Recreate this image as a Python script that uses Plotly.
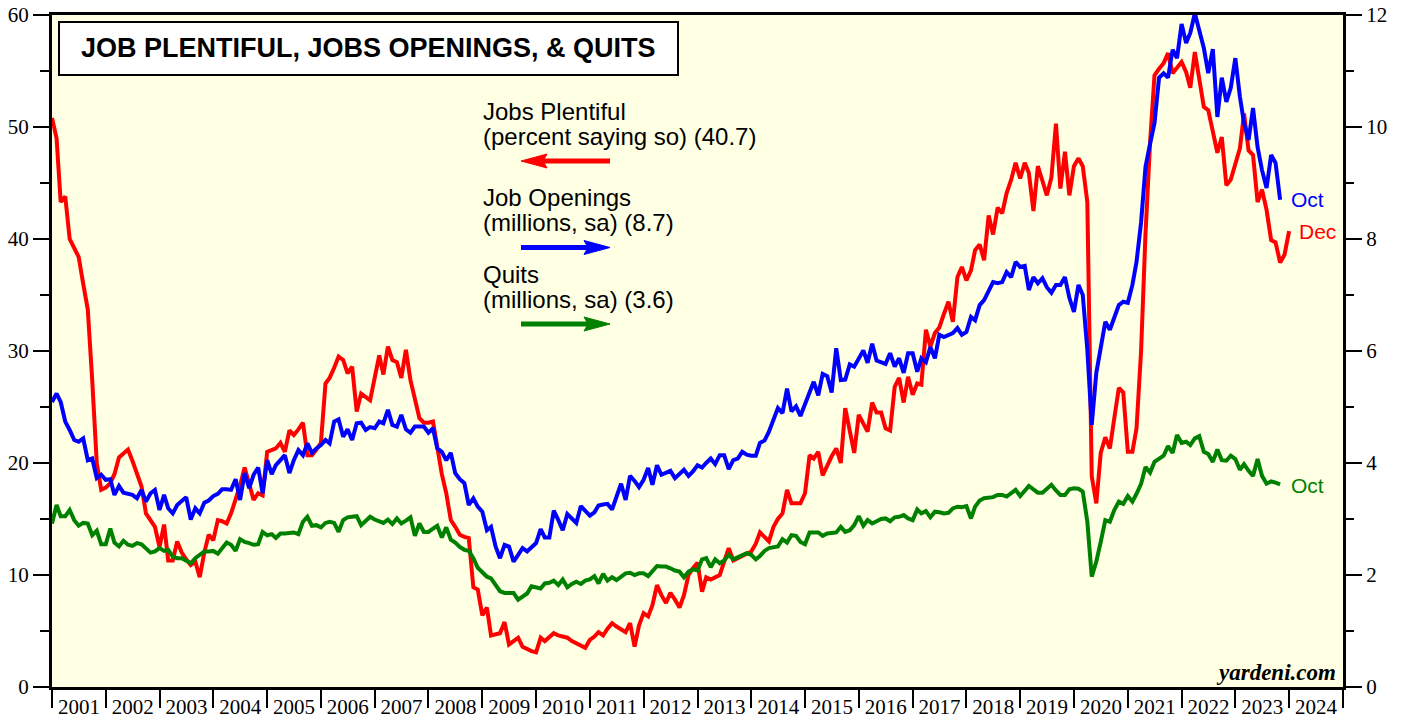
import pandas as pd
import plotly.graph_objects as go

# ---------------- DATA (monthly; first value = Dec 2000, plotted at month end) ----------------
jobs_plentiful = [  # percent saying jobs are plentiful, Dec 2000 - Dec 2023
    50.8,
    49.0, 43.3, 43.8, 40.0, 39.2, 38.4, 36.0, 33.7, 27.4, 20.0, 17.6, 17.8,   # 2001
    18.2, 19.0, 20.5, 20.9, 21.2, 20.2, 19.0, 17.9, 15.5, 14.8, 14.3, 12.5,   # 2002
    14.5, 11.3, 11.3, 13.0, 12.0, 11.4, 10.9, 11.2, 9.8, 12.0, 13.6, 13.1,    # 2003
    14.9, 14.8, 14.6, 15.5, 16.7, 18.0, 19.6, 18.0, 16.7, 17.3, 17.1, 21.0,   # 2004
    21.2, 21.3, 21.8, 21.0, 22.9, 22.5, 23.0, 23.6, 20.7, 20.7, 21.2, 21.8,   # 2005
    27.1, 27.6, 28.5, 29.5, 29.2, 28.0, 28.6, 24.6, 26.2, 25.9, 25.6, 27.6,   # 2006
    29.6, 27.9, 30.4, 29.2, 29.0, 27.6, 30.1, 27.4, 25.6, 24.0, 23.6, 23.6,   # 2007
    23.7, 21.4, 19.0, 17.3, 14.9, 14.3, 13.6, 13.4, 13.3, 8.9, 8.7, 6.4,      # 2008
    7.1, 4.6, 4.7, 4.8, 5.8, 3.8, 4.1, 4.4, 3.6, 3.4, 3.2, 3.1,               # 2009
    4.4, 4.1, 4.4, 4.8, 4.6, 4.5, 4.4, 4.1, 3.9, 3.7, 3.5, 4.2,               # 2010
    4.5, 4.9, 4.6, 5.2, 5.7, 5.4, 5.1, 4.9, 5.7, 3.6, 5.5, 6.6,               # 2011
    6.3, 7.3, 9.1, 8.2, 7.5, 8.4, 7.8, 7.1, 8.2, 10.0, 10.6, 11.1,            # 2012
    8.5, 9.8, 9.6, 9.8, 10.0, 11.2, 12.4, 11.3, 11.5, 11.7, 11.9, 12.1,       # 2013
    12.8, 13.8, 13.4, 13.0, 14.3, 15.0, 15.5, 17.6, 16.4, 16.4, 16.4, 17.3,   # 2014
    20.7, 20.4, 21.0, 18.9, 19.8, 20.6, 21.3, 20.0, 24.9, 23.0, 20.9, 24.3,   # 2015
    23.5, 22.8, 25.4, 24.5, 24.5, 23.1, 22.9, 26.8, 27.6, 25.4, 27.7, 26.1,   # 2016
    27.1, 27.0, 31.9, 30.4, 31.6, 32.1, 33.3, 34.4, 32.6, 36.6, 37.5, 36.3,   # 2017
    37.2, 39.0, 39.5, 38.1, 42.1, 40.4, 42.8, 42.3, 44.1, 45.3, 46.8, 45.4,   # 2018
    46.8, 45.9, 42.5, 46.5, 45.2, 43.9, 45.5, 50.3, 44.5, 47.8, 43.9, 46.5,   # 2019
    47.2, 46.5, 43.3, 18.8, 16.4, 20.9, 22.3, 21.3, 24.0, 26.7, 26.3, 21.0,   # 2020
    21.0, 23.1, 30.0, 40.5, 48.6, 54.6, 55.2, 55.7, 56.6, 54.8, 55.3, 55.8,   # 2021
    54.9, 53.5, 56.7, 54.4, 51.8, 51.5, 49.4, 47.7, 49.1, 44.8, 45.3, 46.8,   # 2022
    48.1, 51.2, 47.9, 47.5, 43.3, 44.4, 42.6, 39.9, 39.7, 37.9, 38.6, 40.7,   # 2023
]

job_openings = [  # millions, sa, Dec 2000 - Oct 2023
    5.09,
    5.24, 5.09, 4.74, 4.59, 4.41, 4.38, 4.44, 4.05, 4.08, 3.73, 3.79, 3.70,   # 2001
    3.71, 3.43, 3.59, 3.47, 3.45, 3.43, 3.37, 3.52, 3.31, 3.46, 3.52, 3.16,   # 2002
    3.43, 3.19, 3.10, 3.25, 3.32, 3.39, 2.99, 3.19, 3.10, 3.29, 3.33, 3.41,   # 2003
    3.45, 3.53, 3.53, 3.52, 3.71, 3.34, 3.82, 3.55, 3.79, 3.92, 3.46, 4.05,   # 2004
    3.80, 3.96, 4.05, 4.14, 3.82, 4.05, 4.23, 4.14, 4.35, 4.18, 4.26, 4.32,   # 2005
    4.41, 4.35, 4.74, 4.78, 4.47, 4.60, 4.41, 4.71, 4.72, 4.59, 4.64, 4.62,   # 2006
    4.74, 4.71, 4.95, 4.68, 4.65, 4.86, 4.60, 4.54, 4.65, 4.65, 4.65, 4.54,   # 2007
    4.62, 4.26, 4.20, 4.05, 4.18, 3.82, 3.71, 3.64, 3.25, 3.37, 3.22, 3.13,   # 2008
    2.80, 2.86, 2.51, 2.30, 2.54, 2.51, 2.24, 2.36, 2.48, 2.42, 2.50, 2.57,   # 2009
    2.82, 2.67, 2.67, 3.15, 2.98, 2.80, 3.09, 3.00, 2.93, 3.23, 3.15, 3.06,   # 2010
    3.12, 3.24, 3.26, 3.27, 3.17, 3.40, 3.63, 3.34, 3.77, 3.68, 3.57, 3.70,   # 2011
    3.91, 3.61, 3.96, 3.79, 3.82, 3.86, 3.73, 3.80, 3.88, 3.77, 3.85, 3.96,   # 2012
    3.92, 4.00, 4.08, 3.98, 4.14, 4.14, 3.89, 4.05, 4.08, 4.20, 4.15, 4.13,   # 2013
    4.13, 4.36, 4.40, 4.56, 4.77, 4.98, 4.89, 5.33, 4.92, 5.01, 4.84, 5.05,   # 2014
    5.27, 5.45, 5.21, 5.59, 5.55, 5.26, 6.05, 5.48, 5.49, 5.76, 5.72, 5.85,   # 2015
    6.01, 5.79, 6.13, 5.83, 5.80, 5.77, 5.96, 5.72, 5.87, 5.61, 5.96, 5.96,   # 2016
    5.63, 5.87, 5.80, 6.07, 5.87, 6.29, 6.25, 6.28, 6.32, 6.41, 6.29, 6.34,   # 2017
    6.61, 6.55, 6.82, 6.91, 7.09, 7.23, 7.21, 7.23, 7.41, 7.32, 7.59, 7.50,   # 2018
    7.52, 7.09, 7.32, 7.21, 7.30, 7.14, 7.04, 7.18, 7.18, 7.32, 6.95, 6.70,   # 2019
    7.18, 7.00, 6.02, 4.68, 5.61, 6.10, 6.52, 6.38, 6.61, 6.82, 6.88, 6.86,   # 2020
    7.18, 7.59, 8.30, 9.29, 9.70, 10.07, 10.88, 10.96, 10.88, 11.38, 11.23, 11.84,  # 2021
    11.50, 11.68, 12.03, 11.73, 11.41, 10.96, 11.39, 10.18, 10.88, 10.45, 10.70, 11.23,  # 2022
    10.54, 10.07, 9.77, 10.34, 9.64, 9.23, 8.91, 9.50, 9.36, 8.70,           # 2023
]

quits = [  # millions, sa, Dec 2000 - Oct 2023
    2.92,
    3.25, 3.05, 3.05, 3.16, 2.98, 2.88, 2.93, 2.92, 2.71, 2.79, 2.55, 2.55,   # 2001
    2.83, 2.58, 2.51, 2.61, 2.54, 2.52, 2.57, 2.55, 2.48, 2.40, 2.42, 2.48,   # 2002
    2.43, 2.45, 2.33, 2.30, 2.30, 2.26, 2.21, 2.30, 2.36, 2.42, 2.42, 2.43,   # 2003
    2.38, 2.48, 2.58, 2.54, 2.43, 2.64, 2.59, 2.57, 2.54, 2.55, 2.77, 2.71,   # 2004
    2.73, 2.66, 2.74, 2.74, 2.75, 2.76, 2.73, 2.95, 3.04, 2.88, 2.89, 2.85,   # 2005
    2.93, 2.95, 2.93, 2.77, 2.98, 3.03, 3.04, 3.05, 2.89, 2.97, 3.04, 2.99,   # 2006
    2.95, 2.93, 2.99, 2.91, 3.01, 2.92, 2.97, 3.03, 2.70, 2.92, 2.77, 2.77,   # 2007
    2.83, 2.88, 2.67, 2.85, 2.63, 2.58, 2.50, 2.45, 2.43, 2.30, 2.13, 2.05,   # 2008
    1.97, 1.94, 1.82, 1.71, 1.68, 1.68, 1.68, 1.56, 1.62, 1.67, 1.80, 1.78,   # 2009
    1.76, 1.85, 1.86, 1.90, 1.82, 1.92, 1.78, 1.84, 1.88, 1.84, 1.90, 1.92,   # 2010
    1.98, 1.85, 2.02, 1.90, 1.96, 1.91, 1.97, 2.03, 2.04, 2.00, 2.03, 2.03,   # 2011
    1.98, 2.08, 2.16, 2.15, 2.15, 2.12, 2.08, 2.06, 1.96, 2.06, 2.10, 2.08,   # 2012
    2.28, 2.30, 2.14, 2.28, 2.21, 2.26, 2.36, 2.28, 2.32, 2.35, 2.39, 2.36,   # 2013
    2.28, 2.34, 2.43, 2.48, 2.50, 2.51, 2.64, 2.58, 2.71, 2.70, 2.59, 2.55,   # 2014
    2.76, 2.76, 2.76, 2.70, 2.74, 2.75, 2.76, 2.86, 2.77, 2.80, 2.89, 3.05,   # 2015
    2.88, 2.98, 2.92, 2.96, 3.00, 3.01, 2.96, 3.03, 3.04, 3.07, 3.01, 2.98,   # 2016
    3.17, 3.10, 3.14, 3.03, 3.13, 3.12, 3.10, 3.11, 3.19, 3.22, 3.21, 3.23,   # 2017
    3.01, 3.22, 3.33, 3.37, 3.38, 3.39, 3.43, 3.43, 3.40, 3.46, 3.52, 3.41,   # 2018
    3.52, 3.59, 3.53, 3.47, 3.47, 3.54, 3.61, 3.51, 3.43, 3.43, 3.53, 3.55,   # 2019
    3.54, 3.49, 2.95, 1.97, 2.24, 2.59, 2.98, 2.95, 3.16, 3.31, 3.27, 3.41,   # 2020
    3.31, 3.45, 3.63, 3.93, 3.83, 4.02, 4.08, 4.13, 4.30, 4.18, 4.50, 4.36,   # 2021
    4.38, 4.32, 4.44, 4.48, 4.20, 4.16, 4.02, 4.24, 4.05, 4.04, 4.13, 4.07,   # 2022
    3.88, 3.98, 3.86, 3.77, 4.07, 3.77, 3.63, 3.67, 3.65, 3.62,               # 2023
]

title_text = "JOB PLENTIFUL, JOBS OPENINGS, & QUITS"
legend_text = [
    ("Jobs Plentiful", "(percent saying so) (40.7)"),
    ("Job Openings", "(millions, sa) (8.7)"),
    ("Quits", "(millions, sa) (3.6)"),
]
end_labels = ["Oct", "Dec", "Oct"]
source_text = "yardeni.com"

# ---------------- LAYOUT GEOMETRY ----------------
W, H = 1408, 721
ML, MR, MT, MB = 52, 65, 15, 34
PW, PH = W - ML - MR, H - MT - MB


def px(x):
    return (x - ML) / PW


def py(y):
    return (H - MB - y) / PH


RED, BLUE, GREEN = "#FF0000", "#0000FF", "#008000"
LINE_W = 4


def month_end_dates(n):
    # value for month m is plotted at the end of that month (first day of next month)
    return pd.date_range("2001-01-01", periods=n, freq="MS")


fig = go.Figure()
fig.add_trace(go.Scatter(x=month_end_dates(len(jobs_plentiful)), y=jobs_plentiful,
                         mode="lines", line=dict(color=RED, width=LINE_W), yaxis="y",
                         name="Jobs Plentiful", hoverinfo="skip"))
fig.add_trace(go.Scatter(x=month_end_dates(len(job_openings)), y=job_openings,
                         mode="lines", line=dict(color=BLUE, width=LINE_W), yaxis="y2",
                         name="Job Openings", hoverinfo="skip"))
fig.add_trace(go.Scatter(x=month_end_dates(len(quits)), y=quits,
                         mode="lines", line=dict(color=GREEN, width=LINE_W), yaxis="y2",
                         name="Quits", hoverinfo="skip"))

tickfont = dict(family="Liberation Serif, Times New Roman, serif", size=21, color="black")

axis_common = dict(showline=True, linecolor="black", linewidth=3, showgrid=False,
                   zeroline=False, ticks="outside", tickcolor="black", tickwidth=2,
                   tickfont=tickfont, automargin=False)

fig.update_layout(
    width=W, height=H, autosize=False,
    margin=dict(l=ML, r=MR, t=MT, b=MB, pad=0, autoexpand=False),
    paper_bgcolor="white",
    plot_bgcolor="#FFFFE3",
    showlegend=False,
    xaxis=dict(type="date", range=["2001-01-01", "2025-01-01"], tickmode="linear",
               tick0="2001-01-01", dtick="M12", tickformat="%Y", ticklabelmode="period",
               ticklen=18, mirror=True, ticklabelstandoff=-19, **axis_common),
    yaxis=dict(range=[0, 60], tickmode="linear", tick0=0, dtick=10, ticklen=16,
               minor=dict(tickmode="linear", tick0=0, dtick=5, ticks="outside", ticklen=9,
                          tickwidth=2, tickcolor="black", showgrid=False),
               **axis_common),
    yaxis2=dict(range=[0, 12], overlaying="y", side="right", tickmode="linear", tick0=0,
                dtick=2, ticklen=16,
                minor=dict(tickmode="linear", tick0=0, dtick=1, ticks="outside", ticklen=8,
                           tickwidth=2, tickcolor="black", showgrid=False),
                **axis_common),
)

shapes = []
annotations = []

# Title box
shapes.append(dict(type="rect", xref="paper", yref="paper", x0=px(59), x1=px(678),
                   y0=py(75), y1=py(22), line=dict(color="black", width=2),
                   fillcolor="white", layer="above"))
annotations.append(dict(xref="paper", yref="paper", x=px(368.5), y=py(48), showarrow=False,
                        xanchor="center", yanchor="middle",
                        text="<b>" + title_text + "</b>",
                        font=dict(family="Liberation Sans, Arial, sans-serif", size=27,
                                  color="black")))

# Legend text and arrows
legend_font = dict(family="Liberation Sans, Arial, sans-serif", size=24, color="black")
legend_rows = [(111, 136, 161, RED, "left"), (197.5, 222.5, 247.5, BLUE, "right"),
               (274.5, 299.5, 324, GREEN, "right")]
for (l1, l2), (y1, y2, ya, col, direction) in zip(legend_text, legend_rows):
    annotations.append(dict(xref="paper", yref="paper", x=px(481), y=py(y1), text=l1,
                            showarrow=False, xanchor="left", yanchor="middle", font=legend_font))
    annotations.append(dict(xref="paper", yref="paper", x=px(481), y=py(y2), text=l2,
                            showarrow=False, xanchor="left", yanchor="middle", font=legend_font))
    x_left, x_right = 521, 610
    if direction == "left":
        tip, base, notch = x_left, x_left + 26, x_left + 22
        line_x0, line_x1 = notch, x_right
    else:
        tip, base, notch = x_right, x_right - 26, x_right - 22
        line_x0, line_x1 = x_left, notch
    shapes.append(dict(type="line", xref="paper", yref="paper", x0=px(line_x0), x1=px(line_x1),
                       y0=py(ya), y1=py(ya), line=dict(color=col, width=5), layer="above"))
    path = (f"M {px(tip)},{py(ya)} L {px(base)},{py(ya - 7)} L {px(notch)},{py(ya)} "
            f"L {px(base)},{py(ya + 7)} Z")
    shapes.append(dict(type="path", xref="paper", yref="paper", path=path,
                       fillcolor=col, line=dict(color=col, width=1), layer="above"))

# End-of-line labels
end_font = 21
for txt, (xl, yl, col) in zip(end_labels, [(1289, 199, BLUE), (1297, 232, RED),
                                            (1289, 485, GREEN)]):
    annotations.append(dict(xref="paper", yref="paper", x=px(xl), y=py(yl), text=txt,
                            showarrow=False, xanchor="left", yanchor="middle",
                            font=dict(family="Liberation Sans, Arial, sans-serif",
                                      size=end_font, color=col)))

# Source
annotations.append(dict(xref="paper", yref="paper", x=px(1338), y=py(672),
                        text="<b><i>" + source_text + "</i></b>", showarrow=False,
                        xanchor="right", yanchor="middle",
                        font=dict(family="Liberation Serif, Times New Roman, serif", size=23,
                                  color="black")))

fig.update_layout(shapes=shapes, annotations=annotations)

fig.write_html("out.html",
               config={"displayModeBar": False},
               post_script="document.body.style.margin='0px';"
                           "document.body.style.overflow='hidden';")
